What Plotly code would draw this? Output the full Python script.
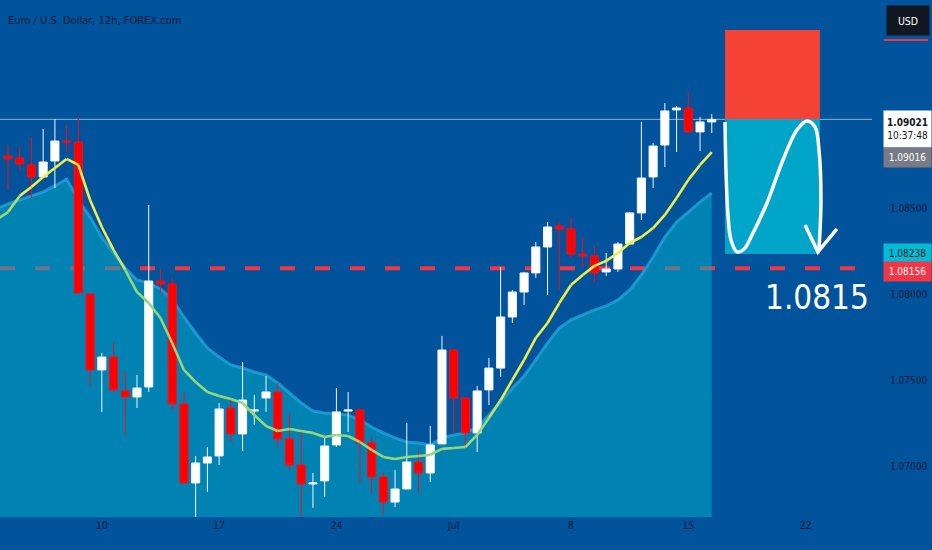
import plotly.graph_objects as go

# EUR/USD 12h candles (bar index 0..60)
opens = [1.08808, 1.08796, 1.08756, 1.08686, 1.08779, 1.08895, 1.08889, 1.08006, 1.07564, 1.07639,
         1.07442, 1.07407, 1.07465, 1.08081, 1.08064, 1.07366, 1.06907, 1.07023, 1.07064, 1.07343,
         1.07192, 1.07325, 1.07401, 1.07436, 1.07163, 1.07012, 1.06901, 1.06919, 1.07128, 1.07325,
         1.07331, 1.07139, 1.06942, 1.06796, 1.06872, 1.07029, 1.06965, 1.07134, 1.07680, 1.07401,
         1.07198, 1.07448, 1.07575, 1.07872, 1.08017, 1.08128, 1.08279, 1.08401, 1.08384, 1.08238,
         1.08227, 1.08134, 1.08151, 1.08296, 1.08477, 1.08686, 1.08872, 1.09076, 1.09087, 1.08948,
         1.09006]
highs = [1.08872, 1.08860, 1.08919, 1.08965, 1.09023, 1.08988, 1.09035, 1.08010, 1.07663, 1.07727,
         1.07552, 1.07535, 1.08523, 1.08157, 1.08099, 1.07436, 1.07064, 1.07116, 1.07372, 1.07401,
         1.07610, 1.07419, 1.07529, 1.07488, 1.07314, 1.07198, 1.06965, 1.07169, 1.07459, 1.07436,
         1.07337, 1.07174, 1.06971, 1.06982, 1.07256, 1.07093, 1.07238, 1.07762, 1.07680, 1.07401,
         1.07471, 1.07634, 1.08163, 1.08029, 1.08134, 1.08308, 1.08424, 1.08424, 1.08453, 1.08337,
         1.08285, 1.08244, 1.08308, 1.08482, 1.09006, 1.08884, 1.09116, 1.09099, 1.09180, 1.09035,
         1.09052]
lows = [1.08610, 1.08727, 1.08564, 1.08680, 1.08622, 1.08831, 1.08006, 1.07471, 1.07320, 1.07436,
        1.07186, 1.07343, 1.07436, 1.08012, 1.07331, 1.06901, 1.06709, 1.06855, 1.07012, 1.07145,
        1.07093, 1.07244, 1.07320, 1.07110, 1.06982, 1.06709, 1.06762, 1.06825, 1.07116, 1.07203,
        1.06907, 1.06849, 1.06721, 1.06767, 1.06872, 1.06849, 1.06913, 1.07134, 1.07198, 1.07110,
        1.07087, 1.07360, 1.07523, 1.07837, 1.07942, 1.08099, 1.08000, 1.08029, 1.08215, 1.08163,
        1.08070, 1.08110, 1.08134, 1.08296, 1.08436, 1.08622, 1.08744, 1.08831, 1.08948, 1.08837,
        1.08942]
closes = [1.08791, 1.08762, 1.08686, 1.08773, 1.08895, 1.08889, 1.08012, 1.07564, 1.07639, 1.07448,
          1.07407, 1.07459, 1.08081, 1.08064, 1.07366, 1.06907, 1.07023, 1.07058, 1.07337, 1.07192,
          1.07389, 1.07331, 1.07436, 1.07163, 1.07012, 1.06901, 1.06907, 1.07122, 1.07320, 1.07331,
          1.07139, 1.06942, 1.06796, 1.06872, 1.07029, 1.06965, 1.07128, 1.07680, 1.07401, 1.07198,
          1.07442, 1.07575, 1.07872, 1.08017, 1.08128, 1.08279, 1.08395, 1.08384, 1.08238, 1.08227,
          1.08128, 1.08151, 1.08296, 1.08477, 1.08680, 1.08866, 1.09070, 1.09087, 1.08948, 1.09006,
          1.09021]

# moving averages, starting one bar before the first visible candle (index -1)
ema_fast = [1.08436, 1.08482, 1.08576, 1.08628, 1.08686, 1.08738, 1.08791, 1.08756, 1.08552, 1.08395,
            1.08262, 1.08145, 1.08017, 1.07953, 1.07866, 1.07721, 1.07564, 1.07494, 1.07436, 1.07413,
            1.07395, 1.07372, 1.07302, 1.07238, 1.07209, 1.07221, 1.07209, 1.07198, 1.07174, 1.07186,
            1.07180, 1.07145, 1.07099, 1.07058, 1.07046, 1.07058, 1.07064, 1.07070, 1.07105, 1.07110,
            1.07116, 1.07186, 1.07285, 1.07389, 1.07506, 1.07622, 1.07750, 1.07837, 1.07953, 1.08058,
            1.08116, 1.08169, 1.08198, 1.08244, 1.08302, 1.08337, 1.08389, 1.08465, 1.08564, 1.08669,
            1.08756, 1.08831]
ma_slow = [1.08500, 1.08529, 1.08552, 1.08576, 1.08599, 1.08634, 1.08674, 1.08552, 1.08453, 1.08337,
           1.08244, 1.08157, 1.08087, 1.08070, 1.08035, 1.07977, 1.07872, 1.07779, 1.07692, 1.07639,
           1.07593, 1.07575, 1.07552, 1.07535, 1.07488, 1.07430, 1.07372, 1.07325, 1.07314, 1.07308,
           1.07302, 1.07273, 1.07232, 1.07198, 1.07169, 1.07145, 1.07139, 1.07128, 1.07169, 1.07186,
           1.07198, 1.07232, 1.07302, 1.07378, 1.07459, 1.07529, 1.07622, 1.07721, 1.07808, 1.07855,
           1.07884, 1.07913, 1.07936, 1.07971, 1.08029, 1.08116, 1.08221, 1.08337, 1.08424, 1.08482,
           1.08541, 1.08593]

tick_index = [8, 18, 28, 38, 48, 58, 68]
tick_text = ["10", "17", "24", "Jul", "8", "15", "22"]
price_ticks = [1.07, 1.075, 1.08, 1.085]
y_min, y_max = 1.06709, 1.09715

last_price = 1.09021
last_time = "10:37:48"
bid_price = 1.09016
level_price = 1.08156
level_text = "1.0815"
level_text_x, level_text_y = 68.97, 1.07985

# short position drawing
pos_start, pos_end = 61.13, 69.22
stop_price, target_price = 1.09541, 1.08238
curve_x = [61.13, 61.21, 61.38, 61.64, 62.15, 62.75, 63.43, 64.71, 66.07, 67.26, 68.11, 68.80, 69.14, 69.31, 69.14]
curve_y = [1.09006, 1.08727, 1.08465, 1.08320, 1.08250, 1.08267, 1.08349, 1.08535, 1.08785, 1.08959,
           1.09012, 1.08977, 1.08843, 1.08552, 1.08262]
arrow_x = [67.95, 69.05, 70.67]
arrow_y = [1.08407, 1.08250, 1.08384]

BG = "#01539b"
TXT = "#0a1a3a"
FONT = "DejaVu Sans Condensed, DejaVu Sans, sans-serif"

bars = list(range(len(opens)))
ma_x = list(range(-1, len(opens)))

fig = go.Figure()

# fast average: yellow above the slow one, green below
def mix(t):
    a = (152, 214, 122)
    b = (240, 238, 74)
    return "rgb(%d,%d,%d)" % tuple(int(a[k] + (b[k] - a[k]) * t) for k in range(3))

fig.add_trace(go.Candlestick(
    x=bars, open=opens, high=highs, low=lows, close=closes,
    increasing=dict(fillcolor="#ffffff", line=dict(color="#f2f6ff", width=1)),
    decreasing=dict(fillcolor="#ff0000", line=dict(color="#f01020", width=1)),
    whiskerwidth=0
))

for i in range(len(ma_x) - 1):
    d = (ema_fast[i] + ema_fast[i + 1]) / 2 - (ma_slow[i] + ma_slow[i + 1]) / 2
    t = min(1, max(0, 0.5 + d / 0.0006))
    fig.add_trace(go.Scatter(
        x=ma_x[i:i + 2], y=ema_fast[i:i + 2], mode="lines",
        line=dict(color=mix(t), width=2.6), hoverinfo="skip"
    ))

# hand drawn curve and arrow
fig.add_trace(go.Scatter(
    x=curve_x, y=curve_y, mode="lines",
    line=dict(color="white", width=3.5, shape="spline"), hoverinfo="skip"
))
fig.add_trace(go.Scatter(
    x=arrow_x, y=arrow_y, mode="lines",
    line=dict(color="white", width=3.5), hoverinfo="skip"
))

# slow average area, as shapes so it sits under the candles
edge = " L ".join("%s,%s" % (x, y) for x, y in zip(ma_x, ma_slow))
area_path = "M %s L %s,%s L %s,%s Z" % (edge, ma_x[-1], y_min, ma_x[0], y_min)

shapes = [
    dict(type="line", xref="paper", x0=0, x1=1, yref="y", y0=level_price, y1=level_price,
         line=dict(color="#f23645", width=4, dash="15px,20px"), layer="below"),
    dict(type="path", xref="x", yref="y", path=area_path, fillcolor="rgba(0,169,198,0.55)",
         line=dict(width=0), layer="below"),
    dict(type="path", xref="x", yref="y", path="M " + edge,
         line=dict(color="rgba(40,170,225,0.7)", width=3), layer="below"),
    dict(type="rect", xref="x", x0=pos_start, x1=pos_end, yref="y", y0=last_price, y1=stop_price,
         fillcolor="#f44336", line=dict(width=0), layer="below"),
    dict(type="rect", xref="x", x0=pos_start, x1=pos_end, yref="y", y0=target_price, y1=last_price,
         fillcolor="#00a5c8", line=dict(width=0), layer="below"),
    dict(type="line", xref="paper", x0=0, x1=1, yref="y", y0=last_price, y1=last_price,
         line=dict(color="rgba(255,255,255,0.55)", width=1), layer="below"),
    dict(type="line", xref="paper", x0=1.0138, x1=1.0642, yref="paper", y0=0.9226, y1=0.9226,
         line=dict(color="#f23645", width=2)),
]

def price_label(y, text, bg, fg, shift=0):
    return dict(xref="paper", x=1, xanchor="left", xshift=11, yref="y", y=y, yanchor="middle",
                yshift=shift, text=text, showarrow=False, bgcolor=bg, width=45, height=17,
                font=dict(family=FONT, size=10, color=fg))

annotations = [
    dict(xref="paper", x=0, xanchor="left", xshift=6, yref="paper", y=0.961, yanchor="middle",
         text="Euro / U.S. Dollar, 12h, FOREX.com", showarrow=False,
         font=dict(family=FONT, size=11, color=TXT)),
    dict(xref="paper", x=1, xanchor="left", xshift=14, yref="paper", y=0.961, yanchor="middle",
         text="USD", showarrow=False, bgcolor="#131722", width=40, height=27,
         font=dict(family=FONT, size=10.5, color="white")),
    dict(xref="paper", x=1, xanchor="left", xshift=11, yref="y", y=last_price, yanchor="top",
         yshift=9, text="<b>%.5f</b><br>%s" % (last_price, last_time), showarrow=False,
         bgcolor="white", width=45, height=34,
         font=dict(family=FONT, size=10, color="#131722")),
    price_label(bid_price, "%.5f" % bid_price, "#787b86", "white", shift=-37),
    price_label(target_price, "%.5f" % target_price, "#00bcd4", "#131722", shift=1),
    price_label(level_price, "%.5f" % level_price, "#f23645", "white", shift=-3),
    dict(xref="x", x=level_text_x, yref="y", y=level_text_y, text=level_text,
         showarrow=False, font=dict(family=FONT, size=33, color="white")),
]

fig.update_layout(
    width=932, height=550,
    margin=dict(l=0, r=60, t=0, b=33),
    paper_bgcolor=BG, plot_bgcolor=BG,
    showlegend=False, boxgap=0.31, boxgroupgap=0,
    shapes=shapes, annotations=annotations,
    xaxis=dict(range=[-0.68, 73.66], rangeslider=dict(visible=False), showgrid=False,
               zeroline=False, showline=False, tickvals=tick_index, ticktext=tick_text,
               ticks="", tickfont=dict(family=FONT, size=10.5, color=TXT)),
    yaxis=dict(range=[y_min, y_max], side="right", showgrid=False, zeroline=False,
               showline=False, tickvals=price_ticks, tickformat=".5f", ticks="",
               ticklabelstandoff=17, tickfont=dict(family=FONT, size=10, color=TXT)),
)

fig.write_html("out.html", config={"displayModeBar": False},
               post_script="document.body.style.margin='0';")
